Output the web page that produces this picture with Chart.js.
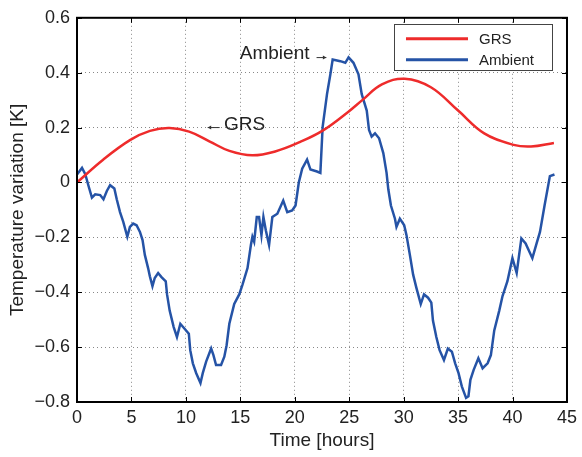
<!DOCTYPE html>
<html>
<head>
<meta charset="utf-8">
<script src="https://cdn.jsdelivr.net/npm/chart.js@4/dist/chart.umd.min.js"></script>
<style>
  html, body { margin: 0; padding: 0; background: #fff; }
  #wrap { width: 582px; height: 457px; }
</style>
</head>
<body>
<div id="wrap"><canvas id="tempChart"></canvas></div>
<script>
// values
var grsTime = [0, 2.4, 4.9, 6.7, 8.5, 10.3, 12.2, 14.0, 16.1, 18.2, 20.5, 22.6, 24.9, 26.2, 28.0, 30.1, 32.5, 35.0, 37.4, 40.1, 41.7, 43.8];
var grsTemp = [0.0, 0.083, 0.155, 0.188, 0.198, 0.185, 0.149, 0.115, 0.099, 0.113, 0.148, 0.19, 0.257, 0.3, 0.357, 0.378, 0.347, 0.262, 0.179, 0.137, 0.131, 0.144];

var ambientTime = [0, 0.46, 0.76, 1.06, 1.37, 1.67, 2.13, 2.43, 2.74, 3.04, 3.43, 3.65, 3.95, 4.25, 4.62, 4.86, 5.16, 5.47, 5.78, 6.02,
    6.23, 6.53, 6.69, 6.93, 7.14, 7.45, 7.76, 8.15, 8.27, 8.51, 8.88, 9.18, 9.49, 9.88, 10.27, 10.40, 10.64, 10.95, 11.34, 11.55,
    11.86, 12.32, 12.53, 12.77, 13.23, 13.53, 13.74, 13.99, 14.44, 14.9, 15.2, 15.66, 15.97, 16.11, 16.27, 16.51, 16.72, 16.94, 17.12, 17.34,
    17.64, 17.94, 18.4, 18.94, 19.31, 19.76, 20.07, 20.37, 20.68, 21.13, 21.44, 22.04, 22.35, 22.56, 22.96, 23.27, 23.48, 24.18, 24.64, 24.94,
    25.39, 25.85, 26.15, 26.61, 26.82, 27.06, 27.37, 27.74, 28.13, 28.43, 28.59, 28.83, 29.2, 29.34, 29.65, 30.05, 30.26, 30.57, 30.87, 31.17,
    31.57, 31.87, 32.24, 32.54, 32.69, 33.0, 33.3, 33.7, 34.06, 34.43, 34.73, 35.04, 35.34, 35.73, 35.95, 36.13, 36.43, 36.86, 37.25, 37.71,
    38.01, 38.32, 38.78, 39.08, 39.53, 39.99, 40.38, 40.81, 41.2, 41.82, 42.21, 42.52, 42.94, 43.43, 43.85];
var ambientTemp = [0.029, 0.053, 0.03, -0.013, -0.055, -0.043, -0.046, -0.061, -0.031, -0.010, -0.022, -0.061, -0.108, -0.144, -0.198, -0.162, -0.150, -0.156, -0.180, -0.210,
    -0.264, -0.312, -0.342, -0.378, -0.348, -0.330, -0.345, -0.360, -0.408, -0.467, -0.527, -0.563, -0.515, -0.533, -0.551, -0.611, -0.659, -0.695, -0.731, -0.695,
    -0.653, -0.605, -0.629, -0.665, -0.665, -0.635, -0.593, -0.515, -0.443, -0.408, -0.372, -0.312, -0.228, -0.198, -0.216, -0.126, -0.126, -0.192, -0.126, -0.174,
    -0.228, -0.126, -0.114, -0.066, -0.108, -0.102, -0.084, 0.000, 0.050, 0.083, 0.047, 0.040, 0.035, 0.203, 0.322, 0.394, 0.448, 0.442, 0.436, 0.456,
    0.436, 0.394, 0.322, 0.262, 0.191, 0.167, 0.179, 0.161, 0.107, 0.035, -0.025, -0.084, -0.132, -0.162, -0.132, -0.156, -0.192, -0.264, -0.336, -0.384,
    -0.443, -0.408, -0.420, -0.438, -0.503, -0.563, -0.611, -0.647, -0.605, -0.617, -0.659, -0.695, -0.743, -0.785, -0.779, -0.719, -0.683, -0.641, -0.677, -0.659,
    -0.629, -0.539, -0.467, -0.414, -0.360, -0.276, -0.330, -0.204, -0.222, -0.276, -0.222, -0.180, -0.084, 0.023, 0.029];

var seriesNames = ["GRS", "Ambient"];
var xTitle = "Time [hours]";
var yTitle = "Temperature variation [K]";
var notes = [
    { text: "GRS", x: 13.5, y: 0.19, arrowFrom: 13.1, arrowTo: 12.0, arrowY: 0.2, dir: -1 },
    { text: "Ambient", x: 14.95, y: 0.45, arrowFrom: 22.0, arrowTo: 22.9, arrowY: 0.455, dir: 1 }
];

var RED = "#ee2b2b";
var BLUE = "#2553a6";
var FONT = "'Liberation Sans', Arial, Helvetica, sans-serif";

function pts(xs, ys) {
    return xs.map(function (x, i) { return { x: x, y: ys[i] }; });
}

function fmt(v) {
    var r = Math.round(v * 10) / 10;
    if (r === 0) return "0";
    var s = Math.abs(r).toFixed(1);
    return r < 0 ? "\u2212" + s : s;
}

// frame, inward ticks, legend box and text notes
var extras = {
    id: "extras",
    afterDraw: function (chart) {
        var ctx = chart.ctx;
        var a = chart.chartArea;
        var xs = chart.scales.x, ys = chart.scales.y;
        ctx.save();

        // inward tick marks
        ctx.strokeStyle = "#000";
        ctx.lineWidth = 1;
        var tl = 5;
        ctx.beginPath();
        xs.ticks.forEach(function (t) {
            var px = Math.round(xs.getPixelForValue(t.value)) + 0.5;
            ctx.moveTo(px, a.bottom); ctx.lineTo(px, a.bottom - tl);
            ctx.moveTo(px, a.top); ctx.lineTo(px, a.top + tl);
        });
        ys.ticks.forEach(function (t) {
            var py = Math.round(ys.getPixelForValue(t.value)) + 0.5;
            ctx.moveTo(a.left, py); ctx.lineTo(a.left + tl, py);
            ctx.moveTo(a.right, py); ctx.lineTo(a.right - tl, py);
        });
        ctx.stroke();

        // frame
        ctx.lineWidth = 2;
        ctx.strokeRect(a.left, a.top, a.right - a.left, a.bottom - a.top);

        // notes
        ctx.fillStyle = "#222";
        ctx.font = "19px " + FONT;
        ctx.textBaseline = "alphabetic";
        ctx.textAlign = "left";
        notes.forEach(function (n) {
            ctx.fillText(n.text, xs.getPixelForValue(n.x), ys.getPixelForValue(n.y));
            var x1 = xs.getPixelForValue(n.arrowFrom), x2 = xs.getPixelForValue(n.arrowTo);
            var yy = ys.getPixelForValue(n.arrowY);
            ctx.strokeStyle = "#333";
            ctx.lineWidth = 1;
            ctx.beginPath();
            ctx.moveTo(x1, yy); ctx.lineTo(x2, yy);
            ctx.stroke();
            ctx.beginPath();
            ctx.moveTo(x2, yy);
            ctx.lineTo(x2 - n.dir * 3.5, yy - 2);
            ctx.lineTo(x2 - n.dir * 3.5, yy + 2);
            ctx.closePath();
            ctx.fillStyle = "#333";
            ctx.fill();
            ctx.fillStyle = "#222";
        });

        // legend
        var bx = a.right - 173, by = a.top + 6, bw = 158, bh = 46;
        ctx.fillStyle = "#fff";
        ctx.fillRect(bx, by, bw, bh);
        ctx.strokeStyle = "#444";
        ctx.lineWidth = 1;
        ctx.strokeRect(Math.round(bx) + 0.5, Math.round(by) + 0.5, bw, bh);
        ctx.font = "15px " + FONT;
        ctx.textBaseline = "middle";
        chart.data.datasets.forEach(function (ds, i) {
            var ly = by + 15 + i * 21;
            ctx.strokeStyle = ds.borderColor;
            ctx.lineWidth = 3;
            ctx.beginPath();
            ctx.moveTo(bx + 12, ly); ctx.lineTo(bx + 74, ly);
            ctx.stroke();
            ctx.fillStyle = "#222";
            ctx.fillText(ds.label, bx + 85, ly + 1);
        });
        ctx.restore();
    }
};

document.addEventListener("DOMContentLoaded", function () {
    var ctx = document.getElementById("tempChart").getContext("2d");
    Chart.defaults.font.family = FONT;
    Chart.defaults.color = "#222";

    new Chart(ctx, {
        type: "line",
        data: {
            datasets: [{
                label: seriesNames[0],
                data: pts(grsTime, grsTemp),
                borderColor: RED,
                borderWidth: 2.5,
                pointRadius: 0,
                tension: 0.4,
                fill: false
            }, {
                label: seriesNames[1],
                data: pts(ambientTime, ambientTemp),
                borderColor: BLUE,
                borderWidth: 2.5,
                pointRadius: 0,
                tension: 0,
                fill: false
            }]
        },
        options: {
            responsive: true,
            maintainAspectRatio: false,
            animation: false,
            layout: { padding: { top: 13, right: 12, left: 0, bottom: 0 } },
            plugins: {
                legend: { display: false },
                tooltip: { enabled: false }
            },
            scales: {
                x: {
                    type: "linear",
                    min: 0,
                    max: 45,
                    ticks: { stepSize: 5, padding: 5, font: { size: 18 }, color: "#222", maxRotation: 0 },
                    grid: { color: "#888", lineWidth: 1, drawTicks: false },
                    border: { display: false, dash: [1, 3] },
                    title: { display: true, text: xTitle, font: { size: 19 }, color: "#222", padding: { top: 0, bottom: 5 } },
                    afterFit: function (s) { s.height = 55; }
                },
                y: {
                    min: -0.8,
                    max: 0.6,
                    ticks: { stepSize: 0.2, padding: 7, font: { size: 18 }, color: "#222", callback: function (v) { return fmt(v); } },
                    grid: { color: "#888", lineWidth: 1, drawTicks: false },
                    border: { display: false, dash: [1, 3] },
                    title: { display: true, text: yTitle, font: { size: 19 }, color: "#222", padding: { top: 6, bottom: 0 } },
                    afterFit: function (s) { s.width = 77; }
                }
            }
        },
        plugins: [extras]
    });
});
</script>
</body>
</html>
